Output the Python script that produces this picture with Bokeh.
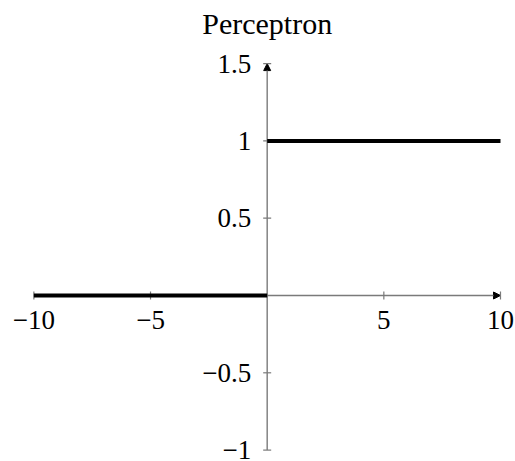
import math

from bokeh.core.properties import value
from bokeh.embed import file_html
from bokeh.models import Arrow, ColumnDataSource, NormalHead, Range1d
from bokeh.plotting import figure
from bokeh.resources import INLINE

# Perceptron (Heaviside step) activation, drawn as two pieces
x_low = [-10, 0]
y_low = [0, 0]
x_high = [0, 10]
y_high = [1, 1]

# axis extents and ticks
x_min, x_max = -10, 10
y_min, y_max = -1, 1.5
x_ticks = [-10, -5, 5, 10]
x_tick_labels = ["\u221210", "\u22125", "5", "10"]
y_ticks = [-1, -0.5, 0.5, 1, 1.5]
y_tick_labels = ["\u22121", "\u22120.5", "0.5", "1", "1.5"]

title_text = "Perceptron"

FONT = value("Liberation Serif")
AXIS_COLOR = "#7a7a7a"

p = figure(
    width=515, height=461,
    output_backend="svg", toolbar_location=None,
    x_axis_location=None, y_axis_location=None,
    min_border=0,
    x_range=Range1d(-11.43, 10.643),
    y_range=Range1d(-1.0737, 1.908),
)
p.outline_line_color = None
p.xgrid.visible = False
p.ygrid.visible = False
p.background_fill_color = "white"
p.border_fill_color = "white"

# axis lines through the origin, with arrow heads at the positive ends
# (kept underneath the data so the step function draws on top)
p.add_layout(Arrow(
    x_start=x_min, y_start=0, x_end=x_max, y_end=0,
    line_color=AXIS_COLOR, line_width=1.4, level="underlay",
    end=NormalHead(size=7, line_color="black", fill_color="black", line_width=1),
))
p.add_layout(Arrow(
    x_start=0, y_start=y_min, x_end=0, y_end=y_max,
    line_color=AXIS_COLOR, line_width=1.4, level="underlay",
    end=NormalHead(size=7, line_color="black", fill_color="black", line_width=1),
))

# tick marks crossing the axes
xt = ColumnDataSource(dict(x=x_ticks, y=[0] * len(x_ticks), label=x_tick_labels))
yt = ColumnDataSource(dict(x=[0] * len(y_ticks), y=y_ticks, label=y_tick_labels))
p.scatter("x", "y", source=xt, marker="dash", size=8, angle=math.pi / 2,
          line_color=AXIS_COLOR, line_width=1.2)
p.scatter("x", "y", source=yt, marker="dash", size=8,
          line_color=AXIS_COLOR, line_width=1.2)

# tick labels
p.text("x", "y", text="label", source=xt, text_font=FONT, text_font_size="27px",
       text_align="center", text_baseline="middle", y_offset=25, text_color="black")
p.text("x", "y", text="label", source=yt, text_font=FONT, text_font_size="27px",
       text_align="right", text_baseline="middle", x_offset=-16, text_color="black")

# the step function
p.line(x_low, y_low, line_color="black", line_width=4)
p.line(x_high, y_high, line_color="black", line_width=4)

# title, centred over the vertical axis
p.text(x=[0], y=[1.76], text=[title_text], text_font=FONT,
       text_font_size="30px", text_align="center",
       text_baseline="alphabetic", text_color="black")

open("out.html", "w").write(file_html(p, INLINE))
